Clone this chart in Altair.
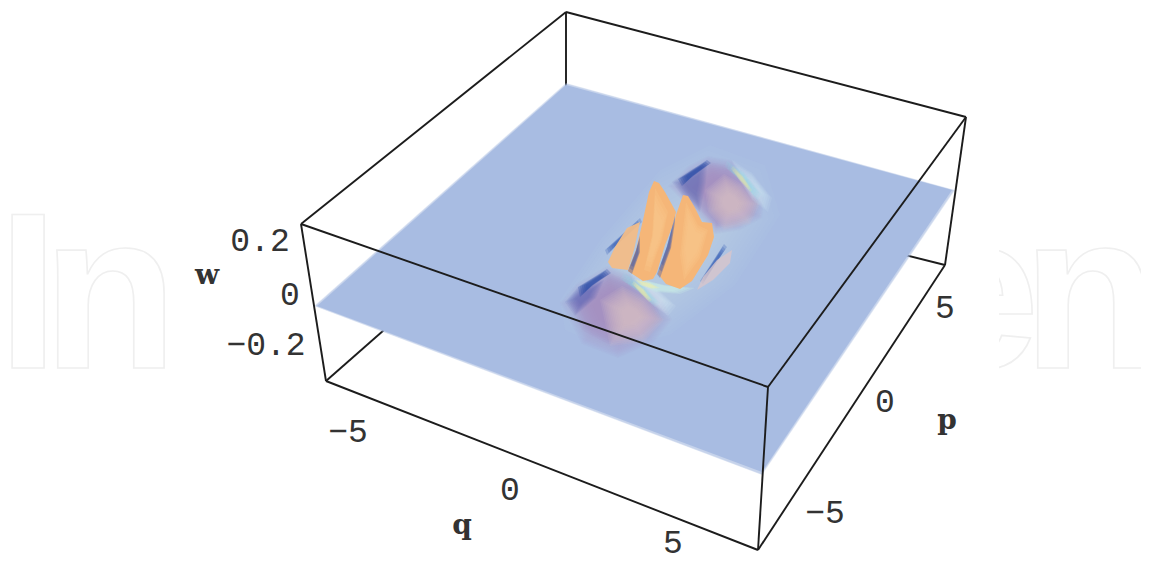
import altair as alt
import pandas as pd

# picture-plane (projected) coordinates of the 3D box, corners as (x, y)
HIDDEN_EDGES = [[(566, 12), (566, 170)], [(326, 381), (566, 170)], [(566, 170), (945, 265)]]
FRONT_EDGES = [
    [(301, 224), (566, 12)], [(566, 12), (966, 117)], [(301, 224), (768, 387)], [(966, 117), (768, 387)],
    [(301, 224), (326, 381)], [(768, 387), (758, 550)], [(966, 117), (945, 265)],
    [(326, 381), (758, 550)], [(758, 550), (945, 265)],
]
SHEET = [(317, 306), (566, 85), (952, 190), (762, 472)]
SHEET_SOFT = [(314, 306), (566, 83), (955, 190), (762, 475)]

# surface patches
HALO_A = [(560, 300), (600, 240), (660, 170), (710, 145), (765, 165), (780, 215), (735, 285), (670, 335), (610, 350), (565, 330)]
LO_OUT = [(560, 303), (576, 284), (607, 266), (635, 276), (660, 295), (672, 320), (654, 342), (618, 358), (582, 344)]
LO_MID = [(570, 303), (582, 288), (607, 272), (632, 282), (654, 300), (662, 320), (640, 336), (608, 344), (582, 330)]
LO_CORE = [(600, 300), (622, 286), (646, 298), (664, 320), (644, 342), (610, 346)]
LO_DARK = [(565, 302), (578, 287), (604, 280), (596, 298), (575, 316)]
UP_OUT = [(668, 186), (688, 166), (707, 156), (732, 160), (752, 178), (764, 198), (762, 218), (740, 230), (715, 234), (698, 216)]
UP_MID = [(678, 184), (692, 170), (708, 162), (730, 166), (748, 182), (758, 200), (754, 216), (736, 224), (716, 228), (702, 212)]
UP_CORE = [(705, 190), (724, 174), (742, 184), (760, 204), (750, 224), (724, 230), (708, 212)]
UP_DARK = [(672, 182), (690, 170), (707, 162), (706, 182), (700, 212), (684, 198)]
GLOW_UP = [(732, 160), (752, 173), (772, 198), (768, 212), (752, 200), (738, 178)]
GLOW_LO = [(630, 272), (650, 282), (676, 306), (668, 316), (650, 303), (634, 285)]
RIM_UP = [(727, 161), (744, 172), (761, 194), (757, 200), (745, 185), (725, 167)]
RIM_LO = [(624, 273), (642, 283), (660, 303), (655, 307), (640, 293), (620, 279)]
YEL_UP = [(733, 166), (743, 176), (752, 190), (750, 192), (740, 181), (731, 169)]
YEL_LO = [(634, 281), (644, 289), (652, 300), (649, 302), (640, 293), (632, 284)]
BASE_GLOW = [(640, 279), (665, 285), (695, 288), (680, 294), (655, 292), (640, 285)]
BASE_YEL = [(634, 279), (650, 283), (660, 288), (652, 289), (640, 285)]
DARK_UP = [(678, 179), (707, 160), (711, 163), (692, 177), (682, 186)]
DARK_LO = [(578, 287), (607, 269), (611, 273), (592, 286), (580, 297)]
DARK_FIN = [(605, 250), (640, 218), (642, 222), (614, 248), (607, 255)]
DARK_FIN2 = [(700, 281), (724, 244), (727, 247), (715, 265), (703, 284)]
FIN_L = [(640, 222), (634, 250), (628, 270), (612, 268), (608, 262), (615, 247), (627, 228)]
FIN_R = [(732, 250), (730, 263), (713, 280), (697, 290), (703, 277), (717, 260)]
PEAK_1 = [(654, 181), (659, 183), (665, 192), (676, 212), (673, 225), (665, 245), (657, 272), (653, 279), (643, 281), (628, 271), (636, 250), (643, 220), (649, 192)]
PEAK_2 = [(683, 195), (688, 196), (694, 206), (702, 222), (712, 223), (714, 237), (708, 255), (692, 281), (680, 289), (666, 284), (658, 274), (668, 247), (676, 215)]
SHADE_1 = [(628, 271), (636, 250), (640, 236), (640, 252), (632, 274)]
SHADE_2 = [(657, 274), (667, 246), (675, 216), (675, 222), (671, 248), (660, 278)]
PEAK_1_HI = [(655, 188), (668, 212), (662, 240), (650, 272), (644, 270), (652, 235)]
PEAK_2_HI = [(686, 202), (698, 225), (708, 230), (700, 258), (684, 280), (680, 255)]

PATCHES = [
    (SHEET_SOFT, "#a8bce2", 3, 0.3, 0.995),
    (SHEET, "#a8bce2", 1, 1.0, 1.0),
    (HALO_A, "#bfcfee", 12, 0.09, 0.45),
    (LO_OUT, "#ab9ccc", 10, 0.1, 0.7),
    (LO_MID, "#a48cc0", 10, 0.12, 0.5),
    (LO_CORE, "#dcc0c8", 12, 0.13, 0.3),
    (LO_DARK, "#5c62b8", 8, 0.12, 0.4),
    (UP_OUT, "#ab9ccc", 10, 0.1, 0.7),
    (UP_MID, "#a48cc0", 10, 0.12, 0.5),
    (UP_CORE, "#dcc0c8", 12, 0.13, 0.3),
    (UP_DARK, "#6268b8", 8, 0.12, 0.4),
    (GLOW_UP, "#d8f0f4", 6, 0.12, 0.5),
    (GLOW_LO, "#dff2f4", 6, 0.12, 0.5),
    (RIM_UP, "#8fe0e6", 5, 0.12, 0.5),
    (RIM_LO, "#8fe0e6", 5, 0.12, 0.5),
    (YEL_UP, "#f2e8a0", 4, 0.2, 0.5),
    (YEL_LO, "#f4eca0", 4, 0.22, 0.5),
    (DARK_UP, "#2f50aa", 5, 0.3, 0.5),
    (DARK_LO, "#2f50aa", 5, 0.3, 0.5),
    (DARK_FIN, "#3a60b8", 5, 0.28, 0.5),
    (DARK_FIN2, "#3a60b8", 5, 0.28, 0.5),
    (FIN_L, "#f2bd88", 1, 0.95, 1.0),
    (FIN_R, "#d8c6cc", 1, 0.8, 1.0),
    (BASE_GLOW, "#cdeee8", 4, 0.25, 0.6),
    (PEAK_1, "#f5b678", 1, 1.0, 1.0),
    (PEAK_1_HI, "#f9c78c", 4, 0.3, 0.6),
    (PEAK_2, "#f5b678", 1, 1.0, 1.0),
    (PEAK_2_HI, "#f9c78c", 4, 0.3, 0.6),
    (SHADE_1, "#4a5ea8", 3, 0.4, 0.6),
    (SHADE_2, "#4a5ea8", 3, 0.4, 0.6),
    (BASE_YEL, "#eef0a8", 3, 0.3, 0.6),
]

TICK_TEXT = ["0.2", "0", "\u22120.2", "\u22125", "0", "5", "\u22125", "0", "5"]
TICK_X = [260, 290, 266, 348, 510, 673, 825, 885, 945]
TICK_Y = [241, 295, 345, 432, 490, 543, 513, 402, 308]
AXIS_TEXT = ["w", "q", "p"]
AXIS_X = [207, 462, 947]
AXIS_Y = [276, 526, 421]
WATERMARK_TEXT = ["I", "n", "e", "n"]
WATERMARK_X = [28, 110, 978, 1090]
WATERMARK_Y = [368, 368, 368, 368]
MASK_X, MASK_X2, MASK_Y, MASK_Y2 = [880], [999], [200], [385]

X = alt.X("x:Q", axis=None, scale=alt.Scale(domain=[8, 1141], nice=False, zero=False))
Y = alt.Y("y:Q", axis=None, scale=alt.Scale(domain=[556, 8], nice=False, zero=False))


def patch_rows():
    rows, pid = [], 0
    for outline, colour, layers, alpha, inner in PATCHES:
        cx = sum(p[0] for p in outline) / len(outline)
        cy = sum(p[1] for p in outline) / len(outline)
        for k in range(layers):
            s = 1 if layers == 1 else 1 - (1 - inner) * k / (layers - 1)
            for i, (px, py) in enumerate(outline):
                rows.append(dict(id=pid, seq=i, x=cx + (px - cx) * s, y=cy + (py - cy) * s, c=colour, a=alpha))
            pid += 1
    return pd.DataFrame(rows)


def edge_rows(edges):
    return pd.DataFrame([dict(id=i, seq=j, x=p[0], y=p[1]) for i, e in enumerate(edges) for j, p in enumerate(e)])


def edges(frame):
    return alt.Chart(frame).mark_line(color="#1c1c1c", strokeWidth=1.9).encode(
        x=X, y=Y, detail="id:N", order="seq:Q")


watermark = alt.Chart(pd.DataFrame(dict(x=WATERMARK_X, y=WATERMARK_Y, t=WATERMARK_TEXT))).mark_text(
    font="Liberation Sans", fontWeight="bold", fontSize=222, align="center", baseline="alphabetic",
    fill="#ffffff", stroke="#efefef", strokeWidth=1.6).encode(x=X, y=Y, text="t:N")
mask = alt.Chart(pd.DataFrame(dict(x=MASK_X, x2=MASK_X2, y=MASK_Y, y2=MASK_Y2))).mark_rect(color="white").encode(
    x=X, x2="x2:Q", y=Y, y2="y2:Q")
patches = alt.Chart(patch_rows()).mark_line(filled=True, strokeWidth=0).encode(
    x=X, y=Y, detail="id:N", order="seq:Q",
    color=alt.Color("c:N", scale=None), opacity=alt.Opacity("a:Q", scale=None))
ticks = alt.Chart(pd.DataFrame(dict(x=TICK_X, y=TICK_Y, t=TICK_TEXT))).mark_text(
    font="Liberation Mono", color="#333333", fontSize=33, align="center", baseline="middle").encode(x=X, y=Y, text="t:N")
axes = alt.Chart(pd.DataFrame(dict(x=AXIS_X, y=AXIS_Y, t=AXIS_TEXT))).mark_text(
    font="DejaVu Serif", color="#333333", fontSize=28, fontWeight="bold", align="center", baseline="middle").encode(x=X, y=Y, text="t:N")

chart = alt.layer(
    watermark, mask, edges(edge_rows(HIDDEN_EDGES)), patches, edges(edge_rows(FRONT_EDGES)), ticks, axes
).properties(width=1133, height=548, padding=0, background="white",
             autosize=alt.AutoSizeParams(type="none")).configure_view(stroke=None)

chart.save("out.html", embed_options={"renderer": "svg", "actions": False})
